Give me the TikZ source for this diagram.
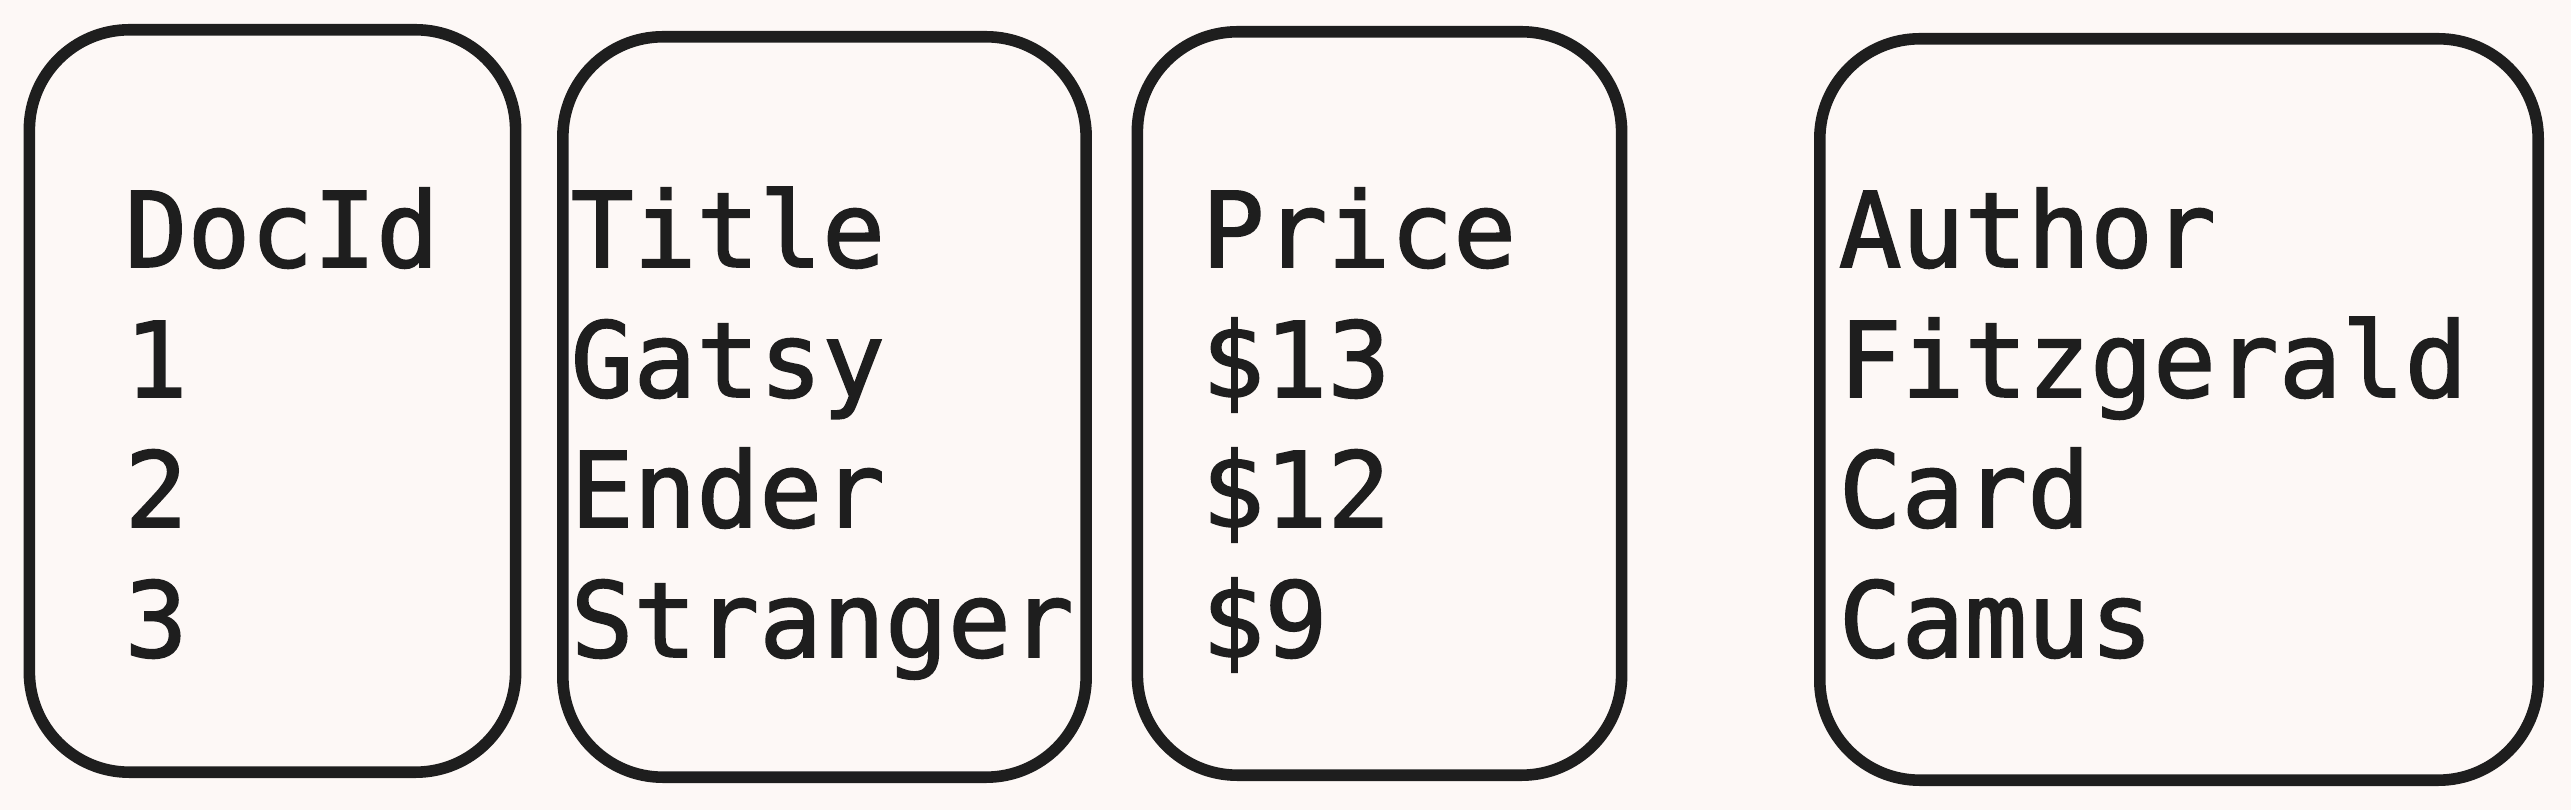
\documentclass[tikz,border=0pt]{standalone}
\usepackage{fontspec}
\newfontfamily\colfont{DejaVu Sans Mono}[FakeBold=1.6]
\usetikzlibrary{positioning}
\definecolor{paper}{HTML}{FDF8F6}
\definecolor{ink}{HTML}{1E1E1E}
\tikzset{
  col/.style={draw=ink, line width=3.3pt, rounded corners=1cm, inner sep=0pt},
  field/.style={text=ink, font=\colfont\fontsize{29.7}{37}\selectfont, inner sep=0pt, anchor=base west}
}
\begin{document}
\begin{tikzpicture}[x=0.01cm, y=-0.01cm]
  \fill[paper] (0,0) rectangle (2571,810);
  \useasboundingbox (0,0) rectangle (2571,810);

  % the four columns
  \node[col, minimum width=4.86cm, minimum height=7.42cm] (docidbox)  at (272.5,401)  {};
  \node[col, minimum width=5.23cm, minimum height=7.40cm] (titlebox)  at (824.5,407)  {};
  \node[col, minimum width=4.84cm, minimum height=7.43cm] (pricebox)  at (1379.5,403.5) {};
  \node[col, minimum width=7.18cm, minimum height=7.41cm] (authorbox) at (2179,409.5) {};

  % their entries
  \foreach \t [count=\i from 0] in {DocId,1,2,3}
    \node[field] (docid-\i) at (124,267+130*\i) {\t};
  \foreach \t [count=\i from 0] in {Title,Gatsy,Ender,Stranger}
    \node[field] (title-\i) at (570,267+130*\i) {\t};
  \foreach \t [count=\i from 0] in {Price,\$13,\$12,\$9}
    \node[field] (price-\i) at (1201,267+130*\i) {\t};
  \foreach \t [count=\i from 0] in {Author,Fitzgerald,Card,Camus}
    \node[field] (author-\i) at (1838,267+130*\i) {\t};
\end{tikzpicture}
\end{document}
